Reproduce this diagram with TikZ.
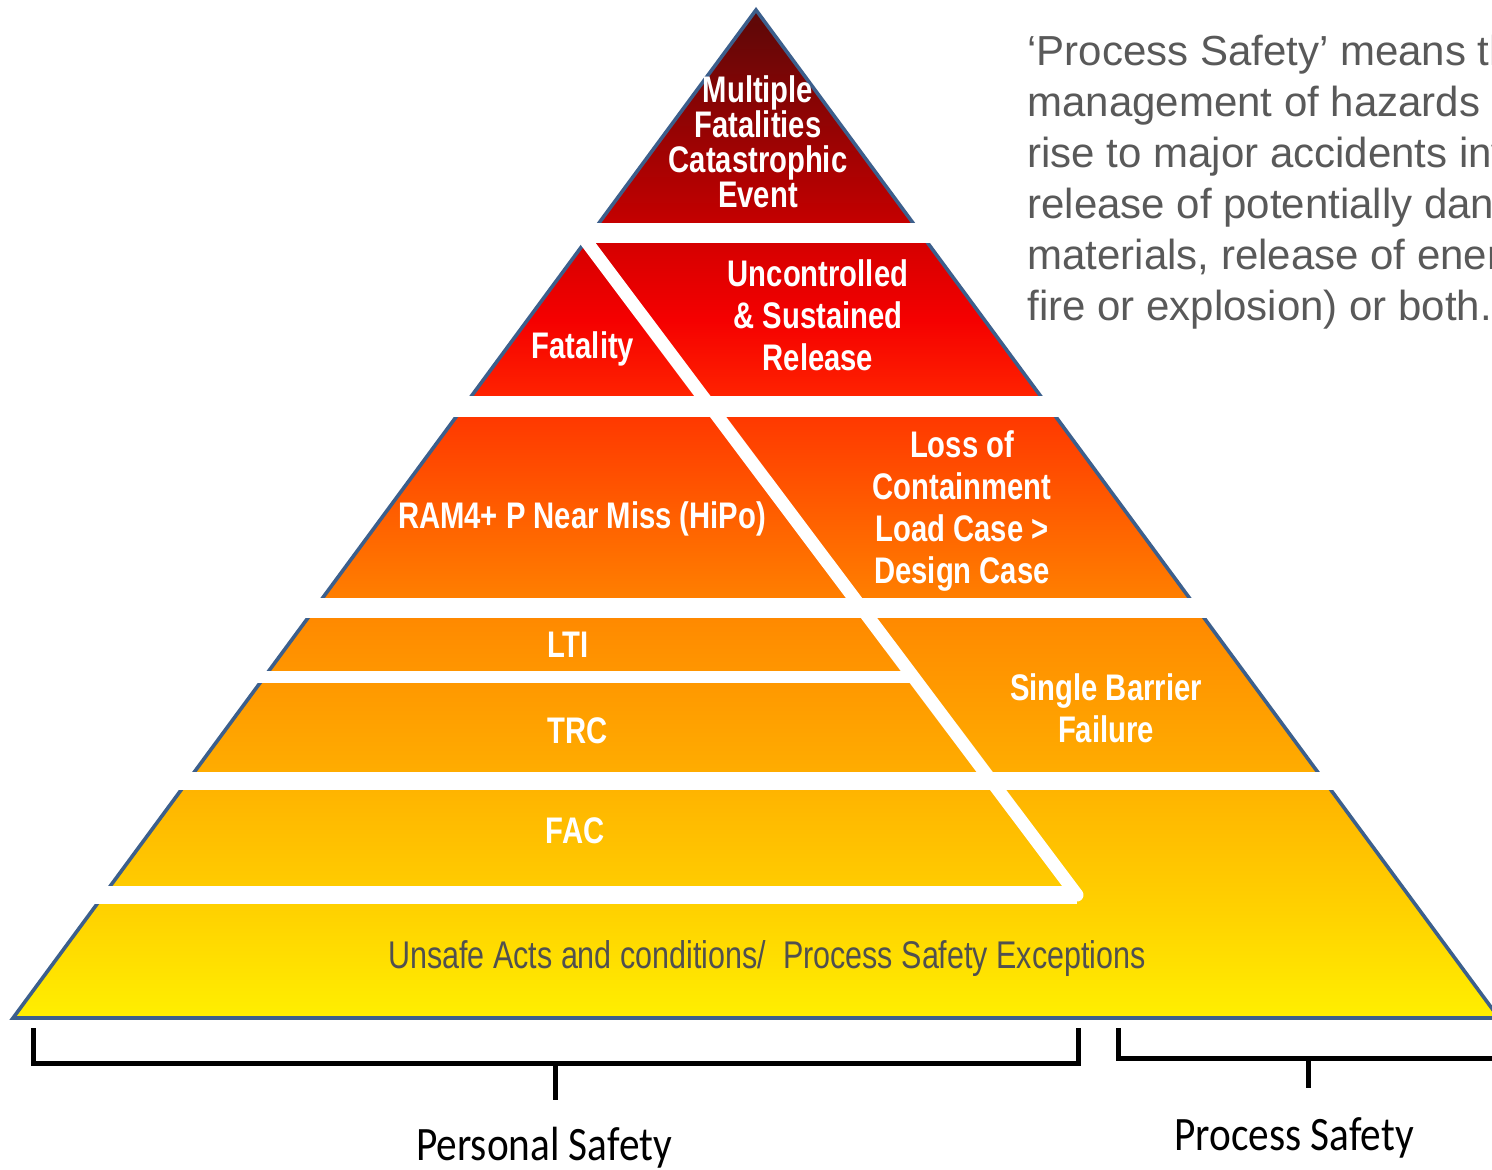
\documentclass[tikz,border=0pt]{standalone}
\usepackage{fontspec}
\usepackage{tikz}
\usetikzlibrary{calc}
\newfontfamily\labelfont[FakeStretch=0.79]{Liberation Sans}
\newfontfamily\notefont{Liberation Sans}
\newfontfamily\bracefont[FakeStretch=0.86]{Carlito}
\definecolor{pyr-blue}{HTML}{3C5F8C}
\definecolor{note-grey}{HTML}{595959}
\definecolor{unsafe-grey}{HTML}{505050}
% colour stops of the pyramid, bottom to top
\definecolor{p0}{HTML}{FFEF00}
\definecolor{p1}{HTML}{FFD000}
\definecolor{p2}{HTML}{FFB400}
\definecolor{p3}{HTML}{FFAC00}
\definecolor{p4}{HTML}{FF8A00}
\definecolor{p5}{HTML}{FF7E00}
\definecolor{p6}{HTML}{FF3A00}
\definecolor{p7}{HTML}{FF2200}
\definecolor{p8}{HTML}{F50000}
\definecolor{p9}{HTML}{D60000}
\definecolor{p10}{HTML}{C00000}
\definecolor{p11}{HTML}{5A0808}
\pgfdeclareverticalshading{pyramid}{100bp}{color(0bp)=(p0); color(25bp)=(p0);
  color(30.61bp)=(p1); color(36.31bp)=(p2); color(37.30bp)=(p3); color(44.74bp)=(p4);
  color(45.98bp)=(p5); color(54.66bp)=(p6); color(55.90bp)=(p7); color(59.62bp)=(p8);
  color(63.34bp)=(p9); color(64.83bp)=(p10); color(75bp)=(p11); color(100bp)=(p11)}

\begin{document}
\begin{tikzpicture}[x=0.5pt, y=-0.5pt,
    gap/.style={draw=white, line width=#1},
    gap/.default=10pt,
    lbl/.style={text=white, inner sep=0pt, align=center,
      font=\labelfont\bfseries\fontsize{18.5}{21}\selectfont},
    note/.style={text=note-grey, inner sep=0pt, align=left,
      font=\notefont\fontsize{21}{25.5}\selectfont},
    brace/.style={draw=black, line width=2.5pt, line join=miter},
    bracelbl/.style={inner sep=0pt, font=\bracefont\fontsize{24}{28}\selectfont}]
  \useasboundingbox (0,0) rectangle (1492,1169);
  \clip (0,0) rectangle (1492,1169);

  % the pyramid
  \coordinate (top) at (756,10);
  \coordinate (bl) at (13,1018);
  \coordinate (br) at (1499,1018);
  \shadedraw[shading=pyramid, draw=pyr-blue, line width=1.8pt] (top) -- (br) -- (bl) -- cycle;

  % white gaps between the levels
  \foreach \y/\w in {233/10pt, 406/10.5pt, 608/10pt, 781/9pt}
    \draw[gap=\w] ({756-0.7371*(\y-10)-12},\y) -- ({756+0.7371*(\y-10)+12},\y);
  \draw[gap=6.3pt] ({756-0.7371*(677-10)-12},677) -- (910,677);
  \coordinate (cut-top) at (580,233);
  \coordinate (cut-end) at (1077,895);
  \draw[gap=9pt] ({756-0.7371*(895-10)-12},895) -- (cut-end);
  \draw[gap=6.5pt, line cap=round] (cut-top) -- (cut-end);

  % labels (base = last line)
  \node[lbl, anchor=base, font=\labelfont\bfseries\fontsize{18.5}{17.5}\selectfont]
    (multi) at (758,207) {Multiple\\Fatalities\\Catastrophic\\Event};
  \node[lbl, anchor=base] (fatal) at (583,358) {Fatality};
  \node[lbl, anchor=base] (release) at (818,370) {Uncontrolled\\\& Sustained\\Release};
  \node[lbl, anchor=base] (hipo) at (582,528) {RAM4+ P Near Miss (HiPo)};
  \node[lbl, anchor=base] (loc) at (962,583) {Loss of\\Containment\\Load Case >\\Design Case};
  \node[lbl, anchor=base] (lti) at (568,657) {LTI};
  \node[lbl, anchor=base] (trc) at (578,743) {TRC};
  \node[lbl, anchor=base] (barrier) at (1106,742) {Single Barrier\\Failure};
  \node[lbl, anchor=base] (fac) at (575,843) {FAC};
  \node[lbl, anchor=base, text=unsafe-grey, font=\labelfont\fontsize{19.3}{21}\selectfont]
    (unsafe) at (767,968) {Unsafe Acts and conditions/\ \ Process Safety Exceptions};

  % definition
  \node[note, anchor=base west] (defn) at (1027,320) {‘Process Safety’ means the\\management of hazards\\rise to major accidents involving\\release of potentially dangerous\\materials, release of energy\\fire or explosion) or both.};

  % braces
  \coordinate (personal-tip) at (555,1100);
  \coordinate (process-tip) at (1308,1088);
  \draw[brace] (33,1028) -- (33,1063) -- (1078,1063) -- (1078,1028);
  \draw[brace] (personal-tip |- 0,1063) -- (personal-tip);
  \draw[brace] (1118,1028) -- (1118,1058) -- (1500,1058);
  \draw[brace] (process-tip |- 0,1058) -- (process-tip);
  \node[bracelbl, anchor=base] (personal) at (544,1160) {Personal Safety};
  \node[bracelbl, anchor=base] (process) at (1294,1150) {Process Safety};
\end{tikzpicture}
\end{document}
